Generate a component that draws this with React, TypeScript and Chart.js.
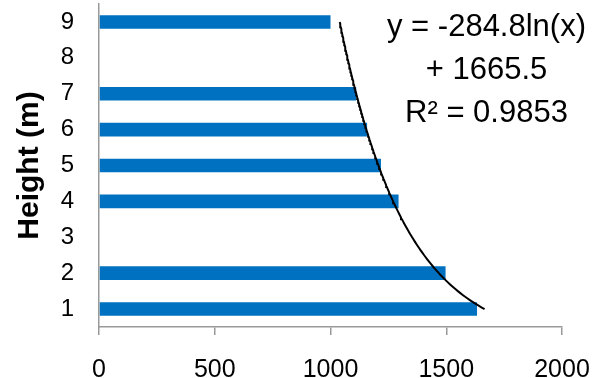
import React, { useEffect, useRef } from "react";
import { Chart, registerables } from "chart.js";

Chart.register(...registerables);

const HEIGHT_LABELS = ["1", "2", "3", "4", "5", "6", "7", "8", "9"];
const BAR_VALUES: (number | null)[] = [1633, 1497, null, 1294, 1218, 1158, 1111, null, 1000];
const X_MIN = 0;
const X_MAX = 2000;
const X_STEP = 500;
// Logarithmic trendline printed on the chart: y = -284.8 ln(x) + 1665.5
const TREND_A = -284.8;
const TREND_B = 1665.5;
const TREND_FROM = 1;
const TREND_TO = 9;
const EQUATION_LINES = ["y = -284.8ln(x)", "+ 1665.5", "R² = 0.9853"];

const FONT = '"Liberation Sans", Arial, sans-serif';
const AXIS_GRAY = "#999999";
const BAR_BLUE = "#0070C0";

// points of the trendline, in the category axis' index space (height h -> index h-1)
function trendPoints() {
  const pts: { x: number; y: number }[] = [];
  const n = 160;
  for (let i = 0; i <= n; i++) {
    const h = TREND_FROM + ((TREND_TO - TREND_FROM) * i) / n;
    pts.push({ x: TREND_A * Math.log(h) + TREND_B, y: h - 1 });
  }
  return pts;
}

const equationPlugin = {
  id: "equationText",
  afterDraw(chart: any) {
    const ctx = chart.ctx;
    ctx.save();
    ctx.font = `31px ${FONT}`;
    ctx.fillStyle = "#000";
    ctx.textAlign = "center";
    ctx.textBaseline = "alphabetic";
    const baselines = [36, 79, 122];
    EQUATION_LINES.forEach((t, i) => ctx.fillText(t, 486.5, baselines[i]));
    ctx.restore();
  },
};

export default function App() {
  const ref = useRef<HTMLCanvasElement | null>(null);

  useEffect(() => {
    document.body.style.margin = "0";
    const canvas = ref.current;
    if (!canvas) return;
    const chart = new Chart(canvas, {
      type: "bar",
      data: {
        labels: HEIGHT_LABELS,
        datasets: [
          {
            type: "bar",
            data: BAR_VALUES,
            backgroundColor: BAR_BLUE,
            borderWidth: 0,
            categoryPercentage: 1,
            barPercentage: 0.38,
            grouped: false,
            xAxisID: "x",
            yAxisID: "y",
            order: 2,
          } as any,
          {
            type: "line",
            indexAxis: "y",
            parsing: false,
            normalized: true,
            data: trendPoints(),
            borderColor: "#000",
            borderWidth: 2,
            pointRadius: 0,
            tension: 0,
            fill: false,
            xAxisID: "x",
            yAxisID: "y",
            order: 1,
          } as any,
        ],
      },
      options: {
        indexAxis: "y",
        responsive: false,
        animation: false,
        devicePixelRatio: 1,
        layout: { padding: { left: 0, right: 46, top: 4, bottom: 0 } },
        plugins: {
          legend: { display: false },
          tooltip: { enabled: false },
        },
        scales: {
          x: {
            type: "linear",
            position: "bottom",
            min: X_MIN,
            max: X_MAX,
            ticks: {
              stepSize: X_STEP,
              color: "#000",
              font: { family: FONT, size: 25 },
              padding: 20,
              maxRotation: 0,
              callback: (v: any) => String(v),
            },
            grid: {
              display: true,
              drawOnChartArea: false,
              drawTicks: true,
              tickLength: 8,
              color: AXIS_GRAY,
              lineWidth: 1.5,
            },
            border: { display: true, color: AXIS_GRAY, width: 1.5 },
            afterFit(scale: any) {
              scale.height = 51;
              scale.paddingLeft = 0;
              scale.paddingRight = 0;
            },
          },
          y: {
            type: "category",
            position: "left",
            reverse: true,
            offset: true,
            min: 0,
            max: 8,
            ticks: {
              color: "#000",
              font: { family: FONT, size: 24 },
              padding: 25,
            },
            grid: {
              display: true,
              drawOnChartArea: false,
              drawTicks: false,
              color: AXIS_GRAY,
            },
            border: { display: true, color: AXIS_GRAY, width: 1.5 },
            title: {
              display: true,
              text: "Height (m)",
              color: "#000",
              font: { family: FONT, size: 30, weight: "bold" },
              padding: { top: 12, bottom: 0 },
            },
            afterFit(scale: any) {
              scale.width = 99;
              scale.paddingTop = 0;
              scale.paddingBottom = 0;
            },
          },
        },
      } as any,
      plugins: [equationPlugin],
    });
    return () => chart.destroy();
  }, []);

  return (
    <div style={{ position: "fixed", left: 0, top: 0, width: 608, height: 378, background: "#fff" }}>
      <canvas ref={ref} width={608} height={378} style={{ display: "block" }} />
    </div>
  );
}
